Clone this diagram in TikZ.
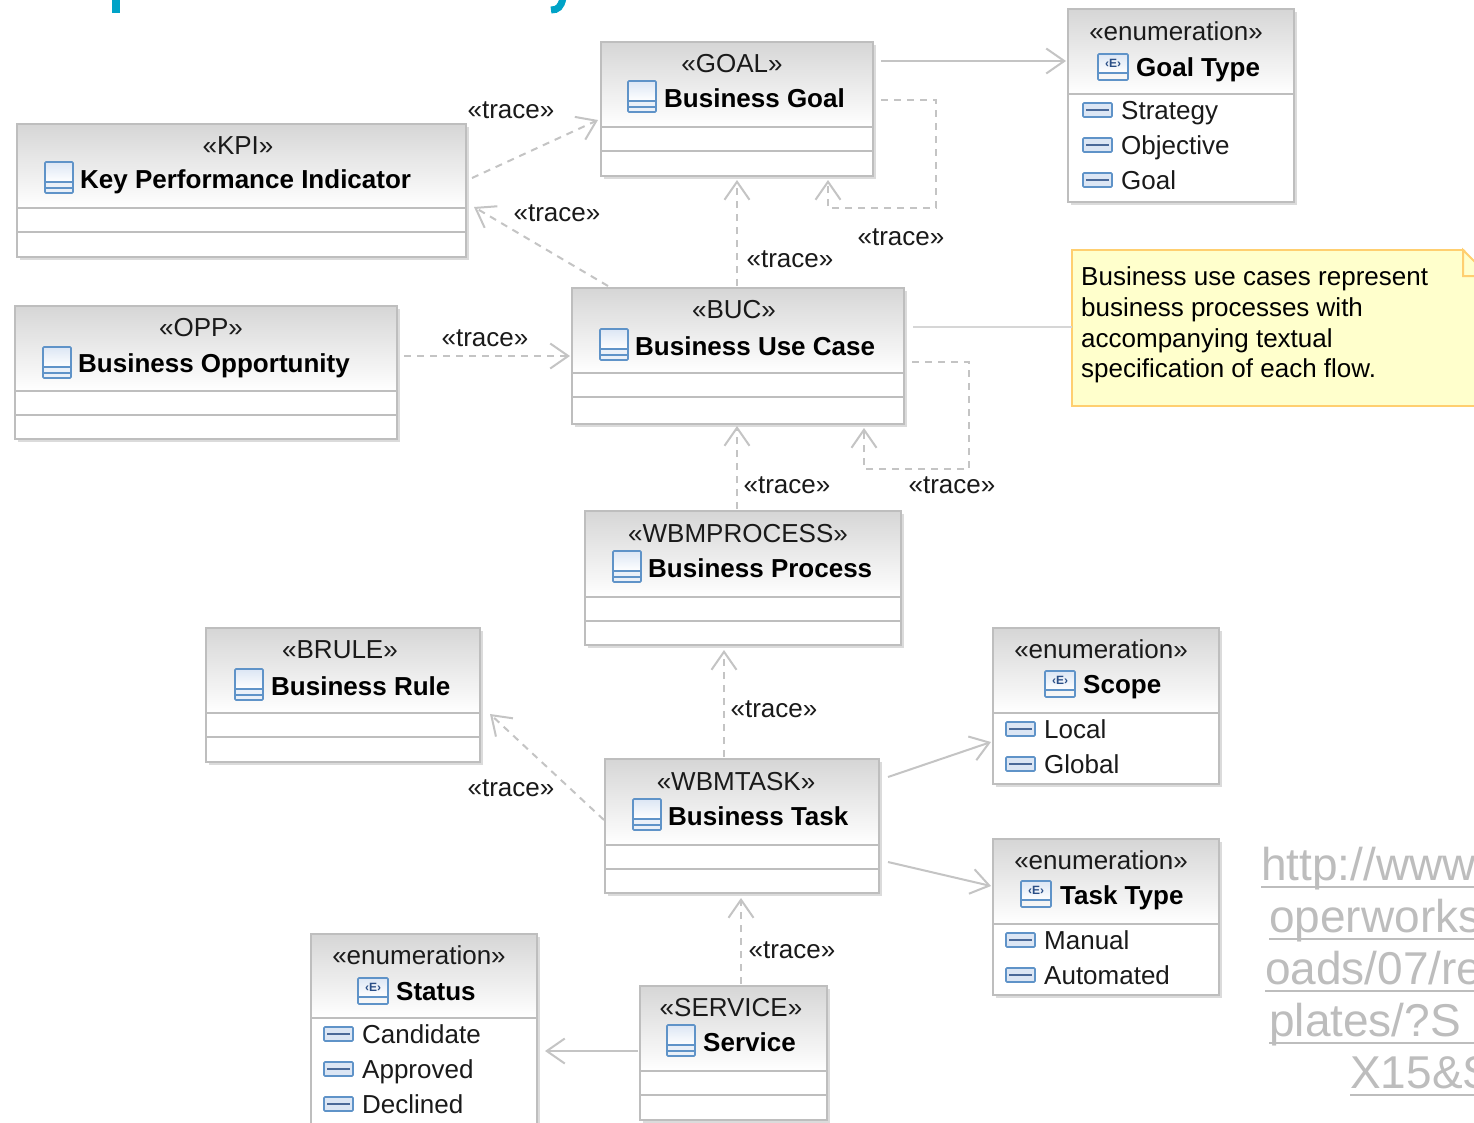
\documentclass[tikz,border=0pt]{standalone}
\usepackage{fontspec}
\setmainfont{Liberation Sans}
\usetikzlibrary{arrows.meta,shadows}
\definecolor{boxgray}{HTML}{BEBEBE}
\definecolor{headtop}{HTML}{D6D6D6}
\definecolor{linkgray}{HTML}{C4C4C4}
\definecolor{iconblue}{HTML}{5F93C8}
\definecolor{iconpale}{HTML}{DCE6F4}
\definecolor{iconnavy}{HTML}{2A4E86}
\definecolor{noteline}{HTML}{FFCF70}
\definecolor{notefill}{HTML}{FFFFCC}
\definecolor{urlgray}{HTML}{BDBDBD}
\definecolor{headteal}{HTML}{00A3C7}
\definecolor{textdark}{HTML}{1A1A1A}
\tikzset{
  classbox/.style={draw=boxgray, line width=2pt, fill=white, inner sep=0pt, outer sep=0pt,
    drop shadow={shadow xshift=3pt, shadow yshift=-3pt, fill=black, opacity=.14}},
  boxline/.style={draw=boxgray, line width=2pt},
  iconline/.style={draw=iconblue, line width=1.6pt},
  stereolabel/.style={anchor=base, inner sep=0pt, text=textdark, font=\fontsize{26}{30}\selectfont},
  tracelabel/.style={stereolabel},
  titlelabel/.style={anchor=base west, inner sep=0pt, text=black, font=\fontsize{26}{30}\selectfont\bfseries},
  literallabel/.style={anchor=base west, inner sep=0pt, text=textdark, font=\fontsize{26}{30}\selectfont},
  urllabel/.style={anchor=base west, inner sep=0pt, text=urlgray, font=\fontsize{46}{52}\selectfont},
  urlrule/.style={draw=urlgray, line width=2.6pt},
  openhead/.style={-{Straight Barb[length=18pt,width=25pt,line width=2pt]}},
  tracelink/.style={draw=linkgray, line width=2pt, dash pattern=on 7pt off 6pt, openhead},
  solidlink/.style={draw=linkgray, line width=2pt, openhead},
  notelink/.style={draw=linkgray!70, line width=2pt}
}
\newcommand{\umlbox}[6]{%
  \node[classbox, minimum width=#4-#2, minimum height=#5-#3] (#1) at ({(#2+#4)/2},{(#3+#5)/2}) {};
  \shade[top color=headtop, bottom color=white] (#1.north west) rectangle (#1.east |- 0,#6);
  \draw[boxline] (#1.north west) rectangle (#1.south east);
  \draw[boxline] (#1.west |- 0,#6) -- (#1.east |- 0,#6);
}
\newcommand{\classicon}[2]{%
  \begin{scope}[shift={(#1,#2)}]
    \shade[top color=iconpale, bottom color=white] (0,0) rectangle (28,20);
    \fill[iconpale!60] (0,20) rectangle (28,31);
    \draw[iconline, rounded corners=1pt] (0,0) rectangle (28,31);
    \draw[iconline] (0,20) -- (28,20) (0,26) -- (28,26);
  \end{scope}
}
\newcommand{\enumicon}[3]{%
  \begin{scope}[shift={(#2,#3)}]
    \shade[top color=iconpale, bottom color=white] (0,0) rectangle (30,19);
    \draw[iconline, rounded corners=1pt] (0,0) rectangle (30,26);
    \draw[iconline] (0,19) -- (30,19);
    \node[inner sep=0pt, text=iconnavy, font=\fontsize{12}{12}\selectfont\bfseries] (#1) at (15,9) {‹E›};
  \end{scope}
}
\newcommand{\literalrow}[4]{%
  \begin{scope}[shift={(#2,#3)}]
    \fill[iconpale, rounded corners=1pt] (0,-7) rectangle (29,7);
    \draw[iconline, rounded corners=1pt] (0,-7) rectangle (29,7);
    \draw[iconnavy!85, line width=2pt] (3,0) -- (26,0);
    \node[literallabel] (#1) at (38,9) {#4};
  \end{scope}
}
\begin{document}
\begin{tikzpicture}[x=1pt, y=-1pt]
\path[use as bounding box, clip] (0,0) rectangle (1474,1122);
\fill[white] (0,0) rectangle (1474,1122);

\fill[headteal] (112,-2) rectangle (120,13);
\draw[headteal, line width=7pt] (563,-2) .. controls (561,7) and (558,10) .. (551,10);

\umlbox{goal}{601}{42}{873}{176}{127}
\draw[boxline] (goal.west |- 0,151) -- (goal.east |- 0,151);
\node[stereolabel] (goalstereo) at (732,72) {«GOAL»};
\classicon{628}{81}
\node[titlelabel] (goaltitle) at (664,107) {Business Goal};

\umlbox{goaltype}{1068}{9}{1294}{202}{94}
\node[stereolabel] (goaltypestereo) at (1176,40) {«enumeration»};
\enumicon{goaltypeicon}{1098}{54}
\node[titlelabel] (goaltypetitle) at (1136,76) {Goal Type};
\literalrow{strategy}{1083}{110}{Strategy}
\literalrow{objective}{1083}{145}{Objective}
\literalrow{goalitem}{1083}{180}{Goal}

\umlbox{kpi}{17}{124}{466}{257}{208}
\draw[boxline] (kpi.west |- 0,232) -- (kpi.east |- 0,232);
\node[stereolabel] (kpistereo) at (238,154) {«KPI»};
\classicon{45}{162}
\node[titlelabel] (kpititle) at (80,188) {Key Performance Indicator};

\umlbox{opp}{15}{306}{397}{439}{391}
\draw[boxline] (opp.west |- 0,415) -- (opp.east |- 0,415);
\node[stereolabel] (oppstereo) at (201,336) {«OPP»};
\classicon{43}{347}
\node[titlelabel] (opptitle) at (78,372) {Business Opportunity};

\umlbox{buc}{572}{288}{904}{424}{373}
\draw[boxline] (buc.west |- 0,397) -- (buc.east |- 0,397);
\node[stereolabel] (bucstereo) at (734,318) {«BUC»};
\classicon{600}{329}
\node[titlelabel] (buctitle) at (635,355) {Business Use Case};

\umlbox{process}{585}{511}{901}{645}{597}
\draw[boxline] (process.west |- 0,621) -- (process.east |- 0,621);
\node[stereolabel] (processstereo) at (738,542) {«WBMPROCESS»};
\classicon{613}{551}
\node[titlelabel] (processtitle) at (648,577) {Business Process};

\umlbox{brule}{206}{628}{480}{762}{713}
\draw[boxline] (brule.west |- 0,737) -- (brule.east |- 0,737);
\node[stereolabel] (brulestereo) at (340,658) {«BRULE»};
\classicon{235}{669}
\node[titlelabel] (bruletitle) at (271,695) {Business Rule};

\umlbox{task}{605}{759}{879}{893}{845}
\draw[boxline] (task.west |- 0,869) -- (task.east |- 0,869);
\node[stereolabel] (taskstereo) at (736,790) {«WBMTASK»};
\classicon{633}{799}
\node[titlelabel] (tasktitle) at (668,825) {Business Task};

\umlbox{scope}{993}{628}{1219}{784}{713}
\node[stereolabel] (scopestereo) at (1101,658) {«enumeration»};
\enumicon{scopeicon}{1045}{671}
\node[titlelabel] (scopetitle) at (1083,693) {Scope};
\literalrow{local}{1006}{729}{Local}
\literalrow{global}{1006}{764}{Global}

\umlbox{tasktype}{993}{839}{1219}{995}{924}
\node[stereolabel] (tasktypestereo) at (1101,869) {«enumeration»};
\enumicon{tasktypeicon}{1021}{881}
\node[titlelabel] (tasktypetitle) at (1060,904) {Task Type};
\literalrow{manual}{1006}{940}{Manual}
\literalrow{automated}{1006}{975}{Automated}

\umlbox{status}{311}{934}{537}{1140}{1018}
\node[stereolabel] (statusstereo) at (419,964) {«enumeration»};
\enumicon{statusicon}{358}{978}
\node[titlelabel] (statustitle) at (396,1000) {Status};
\literalrow{candidate}{324}{1034}{Candidate}
\literalrow{approved}{324}{1069}{Approved}
\literalrow{declined}{324}{1104}{Declined}

\umlbox{service}{640}{986}{827}{1120}{1071}
\draw[boxline] (service.west |- 0,1095) -- (service.east |- 0,1095);
\node[stereolabel] (servicestereo) at (731,1016) {«SERVICE»};
\classicon{667}{1025}
\node[titlelabel] (servicetitle) at (703,1051) {Service};

\node[draw=noteline, line width=2pt, fill=notefill, inner sep=0pt, outer sep=0pt, minimum width=428, minimum height=156] (note) at (1286,328) {};
\fill[white] (1463,248) -- (1489,248) -- (1489,276) -- cycle;
\draw[draw=noteline, line width=2pt] (1463,250) -- (1463,276) -- (1489,276) -- cycle;
\node[literallabel, text=black] (noteone) at (1081,285) {Business use cases represent};
\node[literallabel, text=black] (notetwo) at (1081,316) {business processes with};
\node[literallabel, text=black] (notethree) at (1081,347) {accompanying textual};
\node[literallabel, text=black] (notefour) at (1081,377) {specification of each flow.};

\draw[solidlink] ([shift={(8,-48)}]goal.east) -- ([shift={(-2,-44.5)}]goaltype.west);
\draw[tracelink] ([shift={(8,-9)}]goal.east) -- ++(55,0) -- ++(0,108) -- ++(-108,0) -- ([shift={(91,4)}]goal.south);
\draw[tracelink] ([shift={(6,-12.5)}]kpi.east) -- ([shift={(-3,11)}]goal.west);
\draw[tracelink] ([shift={(36,-2)}]buc.north west) -- ([shift={(8,16.5)}]kpi.east);
\draw[tracelink] ([shift={(-1,-2)}]buc.north) -- ([shift={(0,4)}]goal.south);
\draw[tracelink] ([shift={(7,-16.5)}]opp.east) -- ([shift={(-2,0)}]buc.west);
\draw[tracelink] ([shift={(8,6)}]buc.east) -- ++(57,0) -- ++(0,107) -- ++(-105,0) -- ([shift={(126,4)}]buc.south);
\draw[tracelink] ([shift={(-6,-2)}]process.north) -- ([shift={(-1,2)}]buc.south);
\draw[tracelink] ([shift={(-18,-2)}]task.north) -- ([shift={(-19,5)}]process.south);
\draw[tracelink] ([shift={(-1,-6)}]task.west) -- ([shift={(10,19)}]brule.east);
\draw[solidlink] ([shift={(9,-49)}]task.east) -- ([shift={(-2,36)}]scope.west);
\draw[solidlink] ([shift={(9,36)}]task.east) -- ([shift={(-2,-31)}]tasktype.west);
\draw[tracelink] ([shift={(7.5,-2)}]service.north) -- ([shift={(-1,5)}]task.south);
\draw[solidlink] ([shift={(-2,-2)}]service.west) -- ([shift={(8,14)}]status.east);
\draw[notelink] ([shift={(9,-29)}]buc.east) -- ([shift={(0,-1)}]note.west);

\node[tracelabel] (tracekpigoal) at (511,118) {«trace»};
\node[tracelabel] (tracebuckpi) at (557,221) {«trace»};
\node[tracelabel] (tracegoalself) at (901,245) {«trace»};
\node[tracelabel] (tracebucgoal) at (790,267) {«trace»};
\node[tracelabel] (traceoppbuc) at (485,346) {«trace»};
\node[tracelabel] (traceprocessbuc) at (787,493) {«trace»};
\node[tracelabel] (tracebucself) at (952,493) {«trace»};
\node[tracelabel] (tracetaskprocess) at (774,717) {«trace»};
\node[tracelabel] (tracetaskrule) at (511,796) {«trace»};
\node[tracelabel] (traceservicetask) at (792,958) {«trace»};

\node[urllabel] (urlone) at (1261,880) {http://www};
\node[urllabel] (urltwo) at (1269,932) {operworks};
\node[urllabel] (urlthree) at (1265,984) {oads/07/re};
\node[urllabel] (urlfour) at (1269,1036) {plates/?S};
\node[urllabel] (urlfive) at (1350,1088) {X15\&S};
\draw[urlrule] (1261,887) -- (1474,887);
\draw[urlrule] (1269,939) -- (1474,939);
\draw[urlrule] (1265,991) -- (1474,991);
\draw[urlrule] (1269,1043) -- (1474,1043);
\draw[urlrule] (1350,1095) -- (1474,1095);
\end{tikzpicture}
\end{document}
